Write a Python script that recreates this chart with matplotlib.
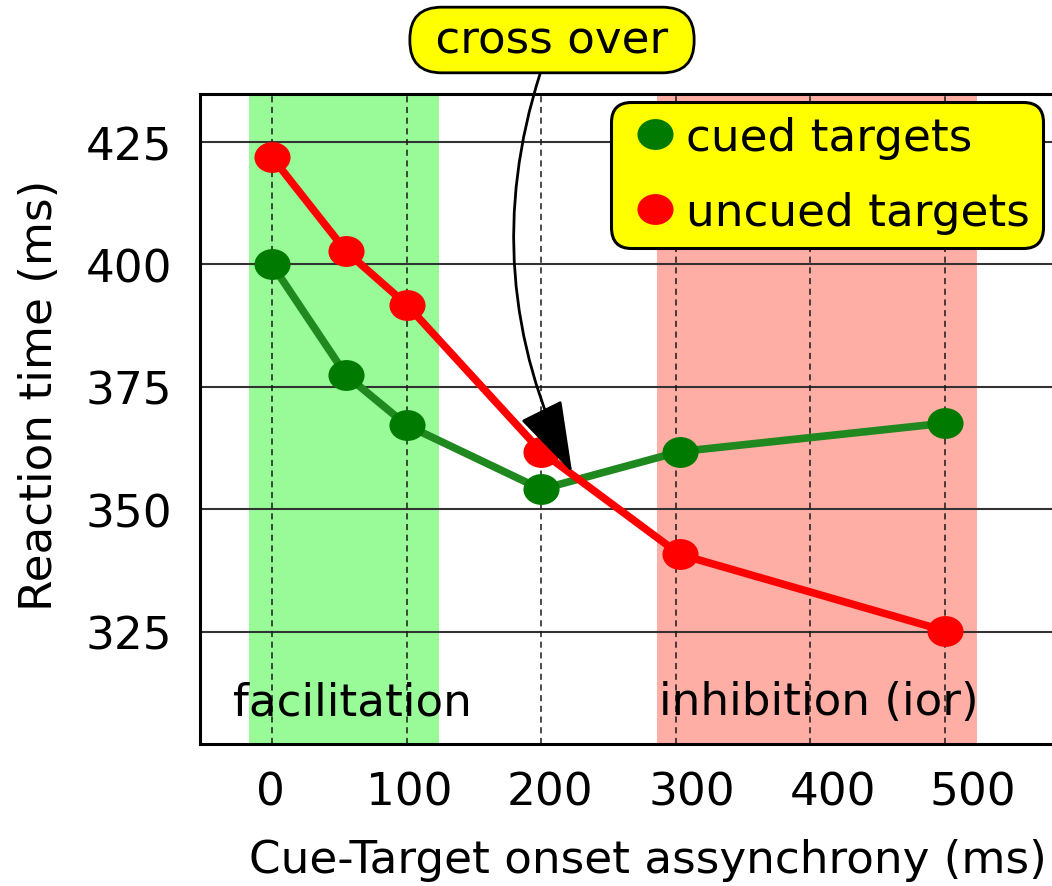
import numpy as np
import matplotlib
matplotlib.use("Agg")
import matplotlib.pyplot as plt
from matplotlib.path import Path
from matplotlib.transforms import Affine2D, ScaledTranslation
from matplotlib.lines import Line2D

# data
soa = [0, 55, 100, 200, 303, 500]
cued = [400.0, 377.4, 367.2, 354.1, 361.8, 367.6]
uncued = [421.9, 402.7, 391.8, 361.8, 340.8, 325.2]

x_ticks = [0, 100, 200, 300, 400, 500]
y_ticks = [325, 350, 375, 400, 425]
facil_span = (-17, 124)
ior_span = (286, 524)
cross_pt = (223, 357.5)

plt.rcParams['font.family'] = ['DejaVu Sans']
FS = 32.6

fig = plt.figure(figsize=(10.52, 8.87), dpi=100)
ax = fig.add_axes([200/1052, 142/887, 852/1052, 650/887])
ax.set_xlim(-53.5, 579.5)
ax.set_ylim(302.1, 434.8)

# shaded regions
ax.axvspan(*facil_span, color='#98fb98', lw=0, zorder=0)
ax.axvspan(*ior_span, color='#ffaea6', lw=0, zorder=0)

# grid
for yv in y_ticks:
    ax.axhline(yv, color='#333333', lw=1.5, zorder=1)
for xv in x_ticks:
    ax.axvline(xv, color='#1a1a1a', lw=1.1, ls=(0, (4, 3)), zorder=1)

# oval marker
oval = Path.unit_circle().transformed(Affine2D().scale(1.17, 1.0))

ax.plot(soa, cued, color='#1f881f', lw=5.5, zorder=3)
ax.plot(soa, cued, ls='none', marker=oval, ms=26, mfc='#007a00', mec='none', zorder=4)
ax.plot(soa, uncued, color='#ff0000', lw=5.5, zorder=3)
ax.plot(soa, uncued, ls='none', marker=oval, ms=26, mfc='#ff0000', mec='none', zorder=4)

ax.set_xticks(x_ticks)
ax.set_xticklabels([str(v) for v in x_ticks])
ax.set_yticks(y_ticks)
ax.set_yticklabels([str(v) for v in y_ticks])
ax.tick_params(axis='both', length=0, labelsize=FS)
ax.tick_params(axis='x', pad=19)
ax.tick_params(axis='y', pad=20)

# labels drift right a bit in the original
shifts = [-2, 3, 9, 16, 23, 28]
for lab, s in zip(ax.get_xticklabels(), shifts):
    lab.set_transform(lab.get_transform() + ScaledTranslation(s/100, 0, fig.dpi_scale_trans))

for side in ['left', 'bottom', 'top']:
    ax.spines[side].set_linewidth(2.2)
    ax.spines[side].set_zorder(5)
ax.spines['right'].set_visible(False)

ax.text(-29, 310.7, "facilitation", fontsize=FS, ha='left', va='center', zorder=6)
ax.text(406, 310.7, "inhibition (ior)", fontsize=FS, ha='center', va='center', zorder=6)

fig.text(648/1052, 1-861/887, "Cue-Target onset assynchrony (ms)", fontsize=FS, ha='center', va='center')
fig.text(40/1052, 1-395/887, "Reaction time (ms)", fontsize=FS, ha='center', va='center', rotation=90)

# legend
handles = [Line2D([], [], ls='none', marker=oval, ms=26, mfc='#007a00', mec='none'),
           Line2D([], [], ls='none', marker=oval, ms=26, mfc='#ff0000', mec='none')]
leg = ax.legend(handles, ["cued targets", "uncued targets"], loc='upper right',
                bbox_to_anchor=(1034/1052, 1-112/887), bbox_transform=fig.transFigure,
                fontsize=FS, frameon=True, facecolor='yellow', edgecolor='black',
                framealpha=1, borderaxespad=0, handlelength=1.35, handletextpad=0.0,
                labelspacing=0.72, borderpad=0.1, fancybox=True)
leg.get_frame().set_linewidth(2.2)
leg.get_frame().set_boxstyle('round,pad=0.2,rounding_size=0.45')
leg.set_zorder(7)

# cross over callout
ax.annotate(" cross over ", xy=cross_pt, xycoords='data',
            xytext=(552, 887-41), textcoords='figure pixels',
            ha='center', va='center', fontsize=FS, zorder=8,
            bbox=dict(boxstyle='round,pad=0.25,rounding_size=0.7', fc='yellow', ec='black', lw=2),
            arrowprops=dict(arrowstyle='-|>,head_length=1.4,head_width=0.45',
                            connectionstyle='arc3,rad=0.22', color='black', lw=2,
                            shrinkA=0, shrinkB=0),
            annotation_clip=False)

fig.savefig("out.png", dpi=100)
